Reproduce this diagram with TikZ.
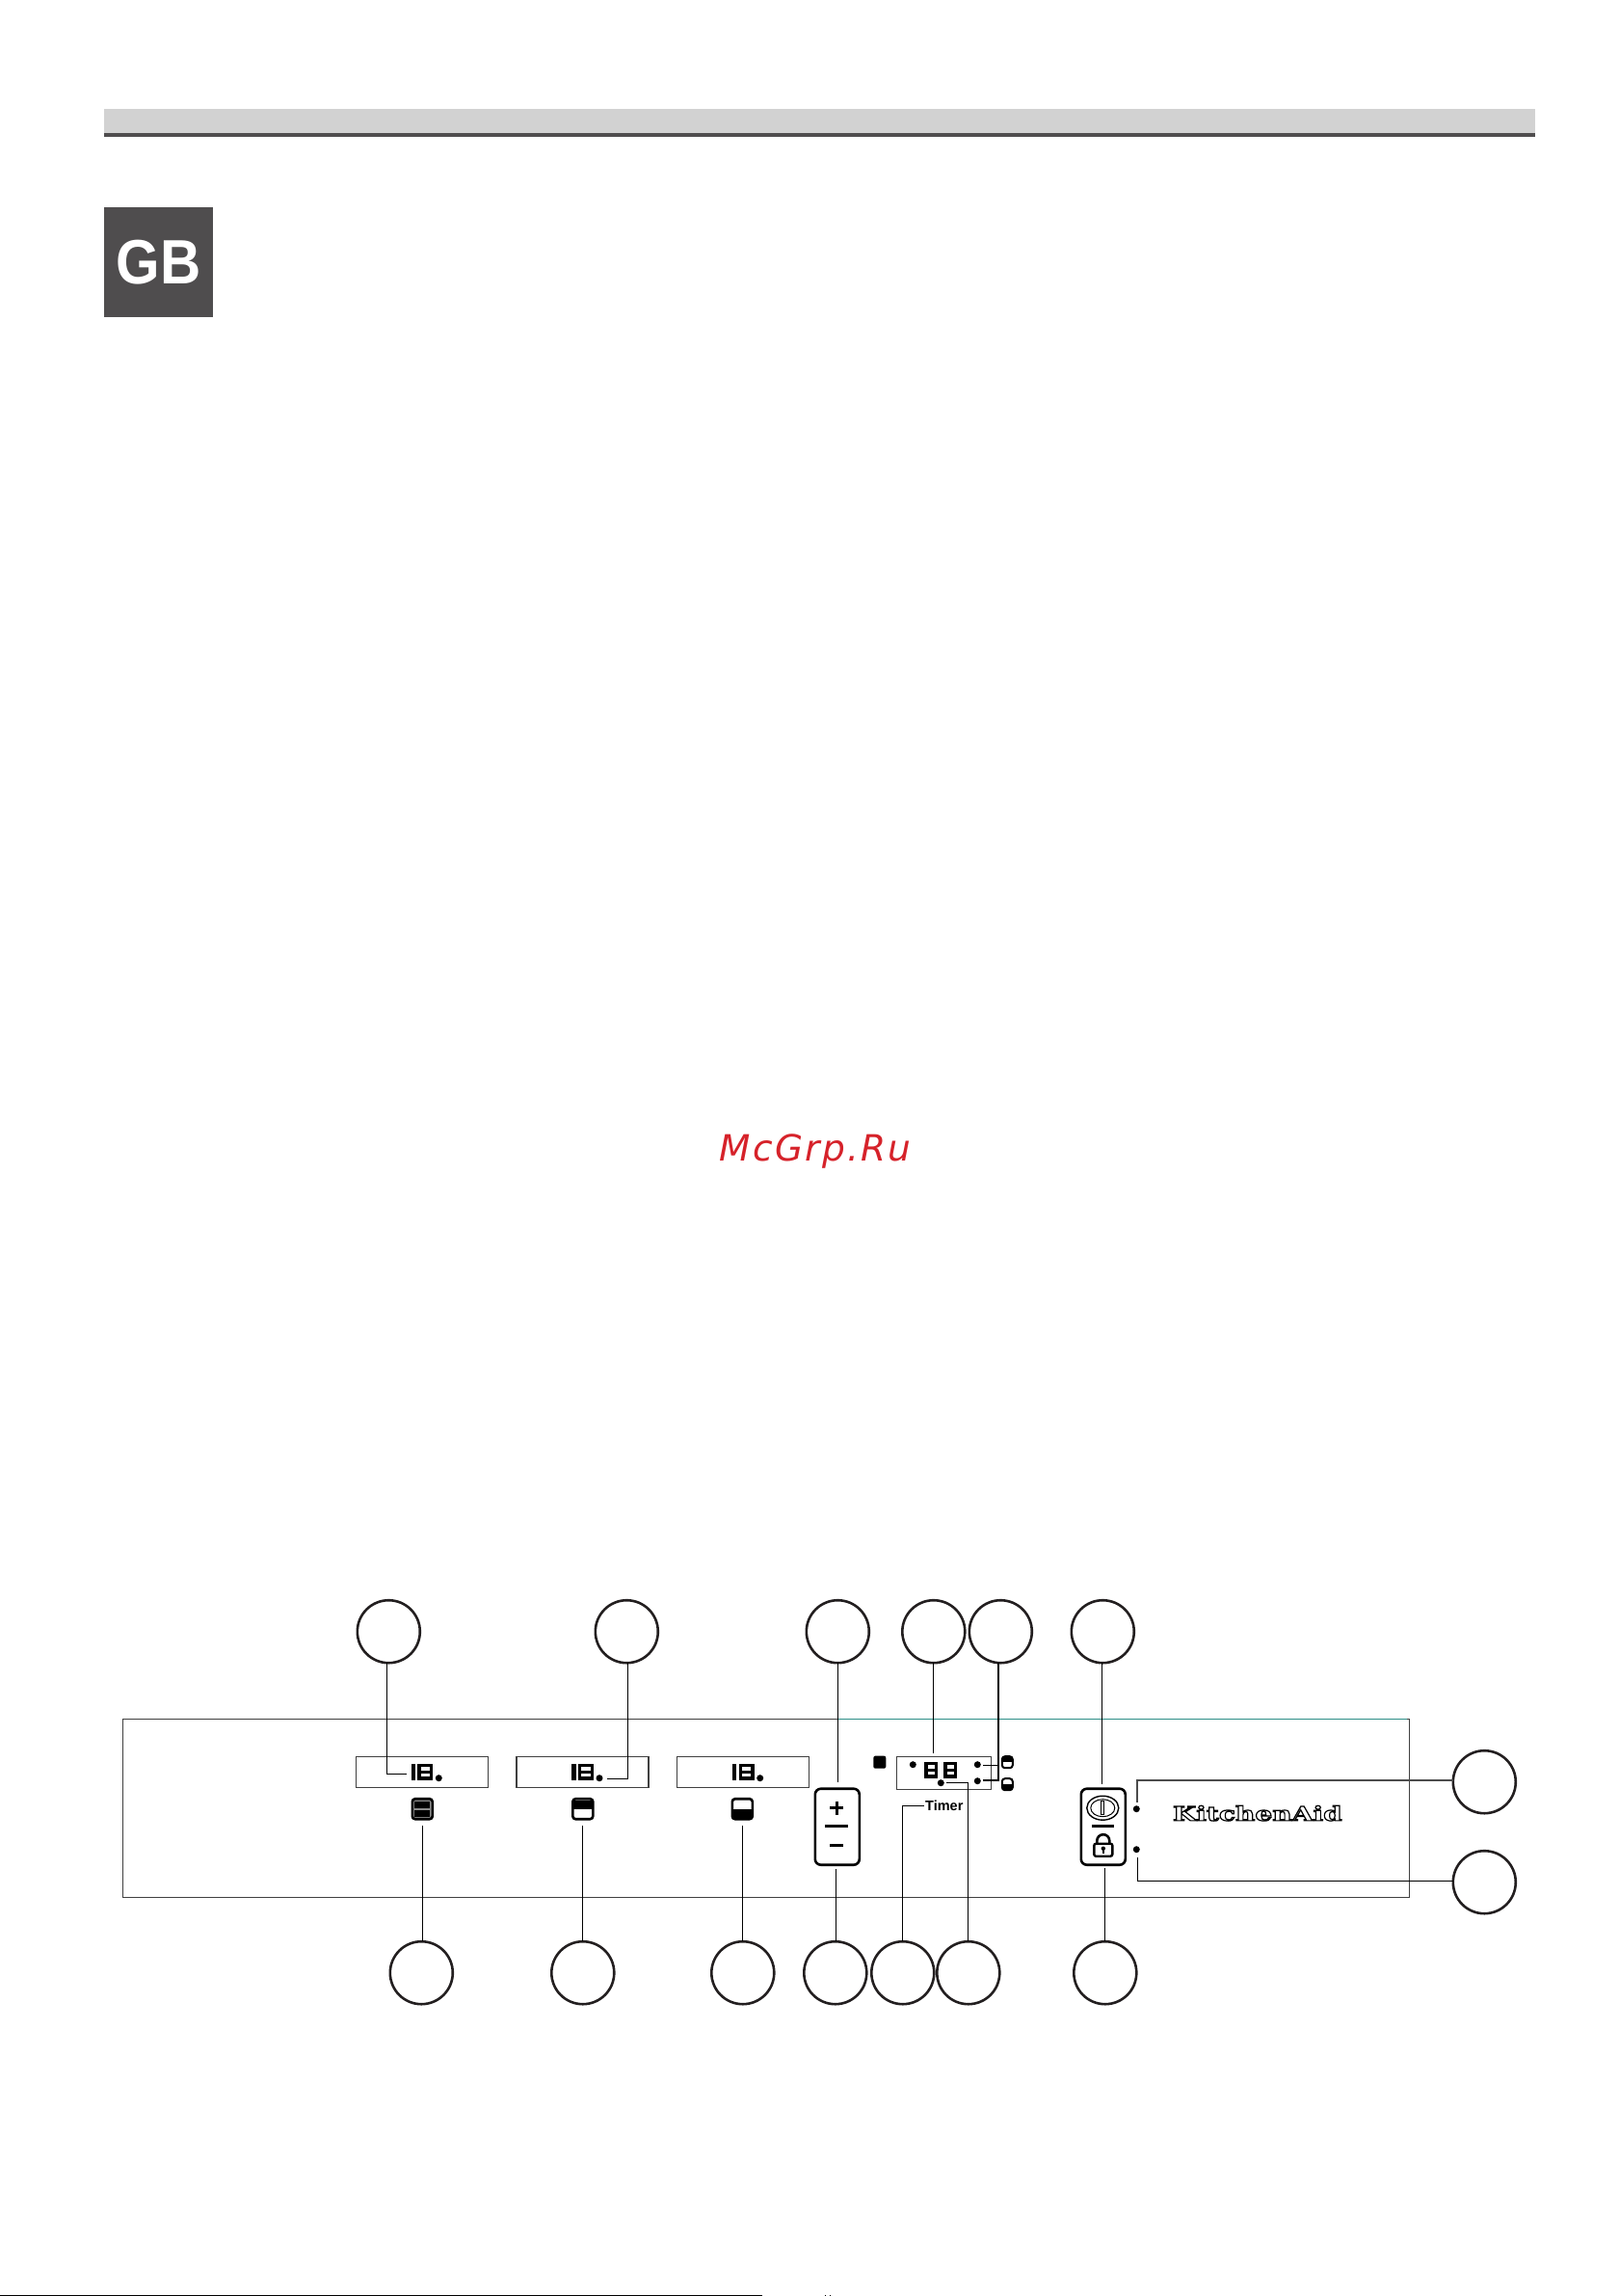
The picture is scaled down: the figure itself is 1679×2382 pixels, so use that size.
\documentclass[tikz,border=0pt]{standalone}
\usepackage{fontspec}
\usetikzlibrary{shapes.geometric}
\setmainfont{Liberation Sans}
\newfontfamily\wmfont[LetterSpace=6]{DejaVu Sans}
\newfontfamily\gbfont[FakeStretch=0.9]{Liberation Sans}
\newfontfamily\brandfont[FakeStretch=1.37]{DejaVu Serif}
\definecolor{dk}{HTML}{231F20}
\definecolor{slab}{HTML}{4F4D4E}
\definecolor{barc}{HTML}{D2D2D2}
\definecolor{teal1}{HTML}{2E8F88}
\definecolor{wm}{HTML}{D6222A}
\tikzset{
  x=1pt,y=-1pt,
  callout/.style={circle,draw=dk,line width=2.6pt,fill=white,minimum size=65pt,inner sep=0pt,outer sep=0pt},
  lead/.style={draw=black,line width=1.2pt},
  leadthick/.style={draw=black,line width=2.2pt},
  leadgray/.style={draw=black!70,line width=1.8pt},
  panelbox/.style={draw=black!75,line width=1.5pt,inner sep=0pt,outer sep=0pt},
  keybox/.style={draw=black,line width=2.6pt,rounded corners=6pt,inner sep=0pt,outer sep=0pt},
  ledot/.style={circle,fill=black,inner sep=0pt,outer sep=0pt,minimum size=7pt},
  seg/.style={draw=black,line width=3.3pt},
  iconbox/.style={draw=black,line width=2.6pt,rounded corners=3pt,fill=white,inner sep=0pt,outer sep=0pt},
}
\newcommand{\eightat}[4]{% x, top, width, height
  \draw[seg] (#1,#2) rectangle (#1+#3,#2+#4);
  \draw[seg] (#1,#2+#4/2) -- (#1+#3,#2+#4/2);}
\newcommand{\readout}[2]{% x-offset, name
  \node[panelbox,minimum width=137pt,minimum height=32pt] (#2) at (437.5+#1,1839) {};
  \draw[line width=4.4pt] (428.5+#1,1830.5) -- (428.5+#1,1847);
  \eightat{434.6+#1}{1831.6}{12.8}{13.8}
  \node[ledot] (#2dot) at (455+#1,1845) {};}
\begin{document}
\begin{tikzpicture}
\useasboundingbox (0,0) rectangle (1679,2382);
\fill[white] (0,0) rectangle (1679,2382);
\begin{scope}[shift={(0.3,-0.3)}]
% header
\fill[barc] (108,113) rectangle (1593,138);
\fill[slab] (108,138) rectangle (1593,142);
\node[fill=slab,minimum width=113pt,minimum height=114pt,inner sep=0pt,outer sep=0pt] (gbbox) at (164.5,272) {};
\node[text=white,inner sep=0pt,font=\fontsize{65}{70}\selectfont\gbfont\bfseries] (gb) at (164.5,272) {GB};
\node[text=wm,inner sep=0pt,anchor=base,font=\fontsize{37.5}{44}\selectfont\wmfont\itshape] (mark) at (846,1205) {McGrp.Ru};
% panel
\node[panelbox,minimum width=1335pt,minimum height=185pt] (panel) at (794.5,1876.5) {};
\draw[teal1,line width=1.2pt] (870,1784) -- (1460,1784);
% readouts
\readout{0}{ra}
\readout{166.7}{rb}
\readout{333.4}{rc}
% oven icons
\node[iconbox,minimum size=21pt,fill=black!45] (ia) at (438,1877) {};
\fill[black] (430,1869) rectangle (446,1876.2);
\fill[black] (430,1877.8) rectangle (446,1885);
\node[iconbox,minimum size=21pt] (ib) at (604.5,1877) {};
\fill[black] (595,1868) rectangle (614,1877);
\node[iconbox,minimum size=21pt] (ic) at (770,1877) {};
\fill[black] (760.5,1877) rectangle (779.5,1886);
% plus/minus key
\node[keybox,minimum width=46pt,minimum height=79pt] (pm) at (868.5,1895.5) {};
\draw[line width=3pt] (861,1876) -- (875,1876) (868,1869) -- (868,1883);
\draw[line width=2.8pt] (856,1895) -- (880,1895);
\draw[line width=3pt] (861,1915) -- (875,1915);
% timer
\node[fill=black,rounded corners=2pt,minimum width=13pt,minimum height=13pt,inner sep=0pt] (sq) at (912.5,1828.5) {};
\node[panelbox,minimum width=98pt,minimum height=34pt] (tb) at (979,1840) {};
\node[ledot] (td0) at (947,1831) {};
\eightat{960.6}{1829.6}{10.8}{13.8}
\eightat{980.6}{1829.6}{10.8}{13.8}
\node[ledot] (td1) at (1014,1831) {};
\node[ledot] (td2) at (1014,1848) {};
\node[ledot] (td3) at (976,1850) {};
\node[iconbox,minimum width=11pt,minimum height=12pt,line width=2pt] (sa) at (1045,1828.5) {};
\fill[black] (1040,1823) rectangle (1050,1828.5);
\node[iconbox,minimum width=11pt,minimum height=12pt,line width=2pt] (sb) at (1045,1851.5) {};
\fill[black] (1040,1851.5) rectangle (1050,1857);
\node[inner sep=0pt,font=\fontsize{14.5}{16}\selectfont\bfseries] (timer) at (979.5,1874) {Timer};
% power / lock key
\node[keybox,minimum width=46pt,minimum height=79pt] (pw) at (1144.5,1895.5) {};
\node[ellipse,draw=black,line width=1.4pt,minimum width=33pt,minimum height=25pt,inner sep=0pt] (po) at (1144,1876) {};
\draw[line width=1pt] (1144,1876) ellipse [x radius=12.5,y radius=9];
\draw[line width=1pt] (1142.6,1869) rectangle (1145.4,1883);
\draw[line width=2.8pt] (1133,1895) -- (1156,1895);
\draw[line width=2.6pt] (1138,1914) -- (1138,1910) arc[start angle=180,end angle=360,radius=6.5] -- (1151,1914);
\node[draw=black,line width=2.4pt,rounded corners=2pt,fill=white,minimum width=19pt,minimum height=13pt,inner sep=0pt] (lk) at (1144.5,1919.5) {};
\fill (1144.5,1918) circle (2.2);
\draw[line width=1.6pt] (1144.5,1918) -- (1144.5,1923);
\node[ledot] (pd1) at (1179,1877) {};
\node[ledot] (pd2) at (1179,1919) {};
% brand
\node[inner sep=0pt,font=\fontsize{20.5}{24}\selectfont\brandfont\bfseries] (brand) at (1304.5,1881.5) {\special{pdf:code q 1 Tr 1.2 w}KitchenAid\special{pdf:code Q}};
% callouts
\foreach \n/\x in {t1/403,t2/650,t3/869,t4/968.5,t5/1038,t6/1144}
  \node[callout] (\n) at (\x,1693) {};
\foreach \n/\x in {b1/437,b2/604.5,b3/770.5,b4/866.5,b5/936.5,b6/1004.5,b7/1146.5}
  \node[callout] (\n) at (\x,2047) {};
\node[callout] (r1) at (1540,1849) {};
\node[callout] (r2) at (1540,1953) {};
% free ends
\coordinate (e1c) at (401,1841);
\coordinate (e1) at (422,1841);
\coordinate (e2c) at (651,1846);
\coordinate (e2) at (630,1846);
\coordinate (e3) at (869,1849);
\coordinate (e4) at (968,1819);
\coordinate (e5c) at (1036,1847);
\coordinate (e5) at (1020,1847);
\coordinate (e5b) at (1020,1832);
\coordinate (e5d) at (1036,1832);
\coordinate (e6) at (1143,1851);
\coordinate (f1) at (438,1894);
\coordinate (f2) at (604,1894);
\coordinate (f3) at (770,1894);
\coordinate (f4) at (867,1939);
\coordinate (f5c) at (936,1874);
\coordinate (f5) at (959,1874);
\coordinate (f6c) at (1004,1850);
\coordinate (f6) at (982,1850);
\coordinate (f7) at (1146,1938);
\coordinate (g1) at (1180,1870);
\coordinate (g2) at (1180,1927);
% leaders
\draw[lead] (t1.south -| e1c) -- (e1c) -- (e1);
\draw[lead] (t2.south -| e2c) -- (e2c) -- (e2);
\draw[lead] (t3.south -| e3) -- (e3);
\draw[lead] (t4.south -| e4) -- (e4);
\draw[leadthick] (t5.south -| e5c) -- (e5c) -- (e5);
\draw[lead] (e5b) -- (e5d);
\draw[lead] (t6.south -| e6) -- (e6);
\draw[lead] (b1.north -| f1) -- (f1);
\draw[lead] (b2.north -| f2) -- (f2);
\draw[lead] (b3.north -| f3) -- (f3);
\draw[lead] (b4.north -| f4) -- (f4);
\draw[lead] (b5.north -| f5c) -- (f5c) -- (f5);
\draw[lead] (b6.north -| f6c) -- (f6c) -- (f6);
\draw[lead] (b7.north -| f7) -- (f7);
\draw[leadgray] (r1.west |- 0,1847) -- (g1 |- 0,1847) -- (g1);
\draw[lead] (r2.west |- 0,1952) -- (g2 |- 0,1952) -- (g2);
\end{scope}
% scan edge at the foot of the page
\fill[black] (0,2380.5) rectangle (791,2382);
\fill[black] (856,2380.5) rectangle (857,2382);
\fill[black] (861,2380.5) rectangle (862,2382);
\end{tikzpicture}
\end{document}
